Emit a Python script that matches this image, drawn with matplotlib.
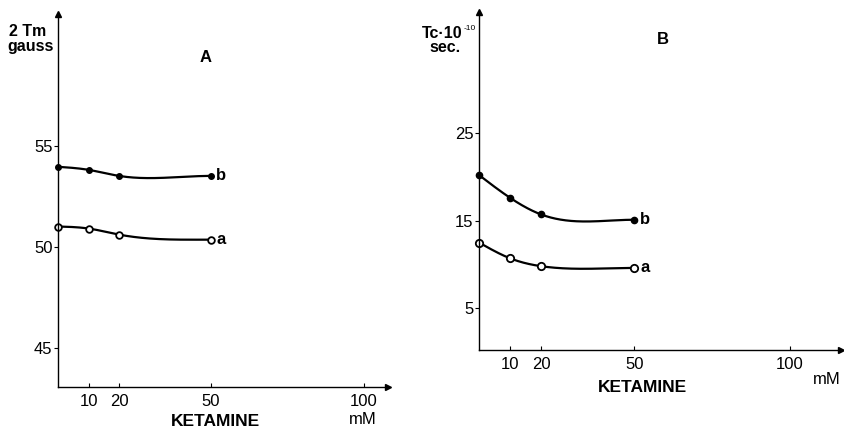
import numpy as np
import matplotlib
matplotlib.use("Agg")
import matplotlib.pyplot as plt

plt.rcParams['font.family'] = ['Liberation Sans', 'DejaVu Sans']

# ketamine concentration (mM)
ketamine = [0, 10, 20, 50]

# panel A: 2Tm (gauss)
tm_a = [51.0, 50.9, 50.6, 50.35]
tm_b = [53.95, 53.8, 53.5, 53.5]

# panel B: Tc * 10^-10 sec
tc_a = [12.5, 10.7, 9.8, 9.6]
tc_b = [20.2, 17.6, 15.7, 15.1]

x_ticks = [10, 20, 50, 100]
ticks_A = [45, 50, 55]
ticks_B = [5, 15, 25]


def smooth(x, y, n=200):
	# cubic spline through the measured points, flat at the right end (drawing only)
	x = np.asarray(x, float)
	y = np.asarray(y, float)
	k = len(x)
	h = np.diff(x)
	A = np.zeros((k, k))
	r = np.zeros(k)
	A[0, 0] = 1
	for i in range(1, k - 1):
		A[i, i - 1] = h[i - 1]
		A[i, i] = 2 * (h[i - 1] + h[i])
		A[i, i + 1] = h[i]
		r[i] = 3 * ((y[i + 1] - y[i]) / h[i] - (y[i] - y[i - 1]) / h[i - 1])
	# clamped: zero slope at last point
	A[-1, -2] = h[-1]
	A[-1, -1] = 2 * h[-1]
	r[-1] = -3 * (y[-1] - y[-2]) / h[-1]
	c = np.linalg.solve(A, r)
	xs = np.linspace(x[0], x[-1], n)
	ys = np.empty_like(xs)
	for j, xv in enumerate(xs):
		i = min(np.searchsorted(x, xv, side='right') - 1, k - 2)
		d = xv - x[i]
		b = (y[i + 1] - y[i]) / h[i] - h[i] * (2 * c[i] + c[i + 1]) / 3
		dd = (c[i + 1] - c[i]) / (3 * h[i])
		ys[j] = y[i] + b * d + c[i] * d ** 2 + dd * d ** 3
	return xs, ys


def px(x0, y0, x1, y1):
	W, H = 844, 429
	return [x0 / W, 1 - y1 / H, (x1 - x0) / W, (y1 - y0) / H]


fig = plt.figure(figsize=(8.44, 4.29), dpi=100)


def panel(rect, xlim, ylim, yticks, ya, yb, msize):
	ax = fig.add_axes(rect)
	ax.set_xlim(*xlim)
	ax.set_ylim(*ylim)
	for s in ['top', 'right']:
		ax.spines[s].set_visible(False)
	for s in ['left', 'bottom']:
		ax.spines[s].set_linewidth(1.0)
	ax.plot(1, 0, '>k', ms=4, transform=ax.transAxes, clip_on=False)
	ax.plot(0, 1, '^k', ms=4, transform=ax.transAxes, clip_on=False)
	ax.set_xticks(x_ticks)
	ax.set_yticks(yticks)
	ax.tick_params(axis='x', direction='in', length=3, pad=5, labelsize=12)
	ax.tick_params(axis='y', direction='out', length=3, pad=1, labelsize=12)
	xs, ys = smooth(ketamine, yb)
	ax.plot(xs, ys, color='black', lw=1.6)
	ax.plot(ketamine, yb, 'o', color='black', ms=msize, clip_on=False)
	xs, ys = smooth(ketamine, ya)
	ax.plot(xs, ys, color='black', lw=1.6)
	ax.plot(ketamine, ya, 'o', mfc='white', mec='black', mew=1.3, ms=msize + 0.8, clip_on=False)
	ax.annotate('b', (ketamine[-1], yb[-1]), xytext=(4, 0), textcoords='offset points',
				va='center', ha='left', fontsize=12, fontweight='bold')
	ax.annotate('a', (ketamine[-1], ya[-1]), xytext=(4, 0), textcoords='offset points',
				va='center', ha='left', fontsize=12, fontweight='bold')
	return ax


axA = panel(px(58, 14, 388, 387), (0, 108), (43.07, 61.5), ticks_A, tm_a, tm_b, 4)
axB = panel(px(479, 12, 841, 350), (0, 116.4), (0.24, 38.8), ticks_B, tc_a, tc_b, 4.5)

fig.text(28 / 844, 1 - 32 / 429, '2 Tm', ha='center', va='center', fontsize=11.5, fontweight='bold')
fig.text(31 / 844, 1 - 46 / 429, 'gauss', ha='center', va='center', fontsize=11.5, fontweight='bold')
fig.text(206 / 844, 1 - 57 / 429, 'A', ha='center', va='center', fontsize=12, fontweight='bold')
fig.text(215 / 844, 1 - 421 / 429, 'KETAMINE', ha='center', va='center', fontsize=12.5, fontweight='bold')
fig.text(363 / 844, 1 - 420 / 429, 'mM', ha='center', va='center', fontsize=12)

fig.text(463 / 844, 1 - 34 / 429, 'Tc·10', ha='right', va='center', fontsize=11.5, fontweight='bold')
fig.text(464 / 844, 1 - 29 / 429, '-10', ha='left', va='center', fontsize=6)
fig.text(445 / 844, 1 - 48 / 429, 'sec.', ha='center', va='center', fontsize=11.5, fontweight='bold')
fig.text(663 / 844, 1 - 40 / 429, 'B', ha='center', va='center', fontsize=12, fontweight='bold')
fig.text(642 / 844, 1 - 388 / 429, 'KETAMINE', ha='center', va='center', fontsize=12.5, fontweight='bold')
fig.text(827 / 844, 1 - 379 / 429, 'mM', ha='center', va='center', fontsize=12)

fig.savefig('out.png', dpi=100)
